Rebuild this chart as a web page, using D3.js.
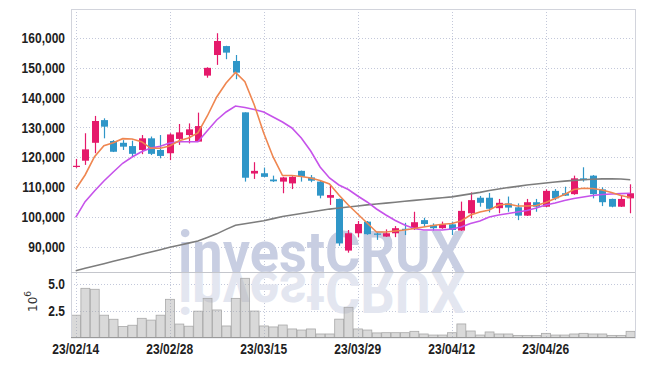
<!DOCTYPE html>
<html>
<head>
<meta charset="utf-8">
<script src="https://cdn.jsdelivr.net/npm/d3@7"></script>
<style>
  html, body { margin: 0; padding: 0; background: #fff; }
  svg { display: block; }
  .lbl { font-family: "Liberation Sans Narrow", "Liberation Sans", Arial, sans-serif; font-weight: bold; font-size: 15px; fill: #1e1e1e; }
</style>
</head>
<body>
<svg id="chart" width="645" height="366"></svg>
<script>
// trading days (YY/MM/DD)
var dates = ["23/02/14","23/02/15","23/02/16","23/02/17","23/02/20","23/02/21","23/02/22","23/02/23","23/02/24","23/02/27",
  "23/02/28","23/03/02","23/03/03","23/03/06","23/03/07","23/03/08","23/03/09","23/03/10","23/03/13","23/03/14",
  "23/03/15","23/03/16","23/03/17","23/03/20","23/03/21","23/03/22","23/03/23","23/03/24","23/03/27","23/03/28",
  "23/03/29","23/03/30","23/03/31","23/04/03","23/04/04","23/04/05","23/04/06","23/04/07","23/04/10","23/04/11",
  "23/04/12","23/04/13","23/04/14","23/04/17","23/04/18","23/04/19","23/04/20","23/04/21","23/04/24","23/04/25",
  "23/04/26","23/04/27","23/04/28","23/05/02","23/05/03","23/05/04","23/05/08","23/05/09","23/05/10","23/05/11"];

var openP = [117000,118800,124800,132400,125400,124800,123700,122400,126300,122400,
  121300,126100,127400,125200,147300,154200,157200,152200,135000,114500,
  114600,112500,111800,111200,115400,113200,111800,106400,106000,88700,
  94500,98400,94400,93400,94500,96000,95900,98900,97300,96200,
  97500,95400,101200,106400,106400,102900,104500,103200,100400,104900,
  103400,108700,107900,107600,112900,113800,109200,106000,103400,106200];
var highP = [119400,128000,133800,133000,125700,125700,125500,127400,126900,127400,
  128000,131100,131300,134900,150100,161500,157300,154200,135000,118300,
  116500,113800,113400,113600,115500,114000,112000,110700,106100,95600,
  98600,98600,94800,95800,96900,98000,101700,99700,97800,98400,
  98400,105100,108200,107000,108000,106000,106800,104500,106000,106000,
  109200,109300,110100,113800,116600,114000,109900,106100,107000,110900];
var lowP = [116400,117400,121300,126300,121700,122400,120100,121000,120700,119600,
  119000,124100,124600,125100,146600,150900,152800,146100,111800,112700,
  113300,111700,107900,109300,111800,111600,106200,104000,90300,88000,
  93200,94000,92300,93300,93200,93900,95600,96700,95400,96000,
  93900,95300,99500,103400,101500,101200,101700,98900,100300,101700,
  103300,105600,107000,107400,111800,106200,103600,103200,103300,101200];
var closeP = [117100,122600,132100,130200,121800,123500,121100,126300,121100,120400,
  127600,128300,129300,130400,149900,158900,155000,148300,113100,115400,
  113400,111900,113200,113400,113400,112100,107100,107300,91100,94500,
  97600,94200,94300,94500,96200,95900,98200,97600,96200,97500,
  95600,102000,105600,104700,102700,104700,103100,100400,104900,103400,
  108700,106200,107100,112900,112300,107600,104900,103400,106000,107900];
var volume = [2080000,4600000,4510000,2080000,1700000,1020000,1140000,1790000,1620000,2080000,
  3570000,1250000,1050000,2460000,3660000,2570000,1070000,3660000,5540000,2470000,
  1070000,980000,1160000,790000,690000,790000,320000,320000,1710000,2820000,
  790000,690000,420000,440000,440000,440000,570000,320000,220000,220000,
  440000,1260000,600000,220000,510000,320000,320000,190000,190000,190000,
  380000,220000,220000,320000,380000,320000,320000,190000,190000,570000];
var ma5 = [109230,114020,120150,123830,124840,126180,126080,125170,122960,122960,
  123730,125500,126410,128090,133780,140140,144830,148350,145260,137460,
  128090,120050,113850,113850,113520,113010,112180,111000,107320,103970,
  100960,97940,94930,94930,95260,95600,96100,96600,97110,97510,
  97780,98610,100620,101630,102300,103970,104310,103640,103640,103800,
  104810,106150,107490,109160,109560,109500,109000,108160,107150,106480];
var ma20 = [99850,105080,108660,112010,115020,117940,120050,121820,123060,123630,
  124700,125170,125170,125170,128850,132440,135120,137130,136620,135960,
  135120,133440,131770,129760,126410,122060,116700,113010,110670,109160,
  106990,104980,102630,100620,98780,97270,96100,95600,95600,95600,
  95930,96600,97780,98610,99950,100620,101130,101630,102130,102970,
  103970,104640,105480,106150,106650,107150,107490,107660,107760,107890];
var ma60 = [81970,82800,83550,84300,85100,85850,86650,87450,88250,89000,
  89800,90500,91200,91900,93100,94300,95800,97200,97700,98200,
  98700,99400,100100,100600,101100,101600,102100,102600,102950,103300,
  103650,104000,104300,104600,104900,105200,105500,105800,106100,106400,
  106700,107200,107700,108200,108800,109300,109800,110200,110650,111000,
  111350,111650,111950,112200,112400,112600,112700,112780,112650,112400];
var priceTicks = [90000,100000,110000,120000,130000,140000,150000,160000];
var volTicks = [2500000,5000000];

var svg = d3.select("#chart");
var plotL = 71, plotR = 635, plotT = 9, splitY = 272, plotB = 337.4;

var x = d3.scaleBand().domain(dates).range([plotL, plotR]).padding(0);
var cx = function (d) { return x(d) + x.bandwidth() / 2; };
var y = d3.scaleLinear().domain([81526, 169613]).range([splitY, plotT]);
var yv = d3.scaleLinear().domain([0, 6130000]).range([plotB, splitY]);

var upColor = "#e5196b", downColor = "#2f96c8", gridColor = "#c3c8da";

// grid
var grid = svg.append("g");
grid.selectAll(".hg").data(priceTicks).enter().append("line")
  .attr("x1", plotL).attr("x2", plotR)
  .attr("y1", function (d) { return Math.round(y(d)) + 0.5; })
  .attr("y2", function (d) { return Math.round(y(d)) + 0.5; })
  .attr("stroke", gridColor).attr("stroke-dasharray", "1,2");
grid.selectAll(".vg").data(volTicks).enter().append("line")
  .attr("x1", plotL).attr("x2", plotR)
  .attr("y1", function (d) { return Math.round(yv(d)) + 0.5; })
  .attr("y2", function (d) { return Math.round(yv(d)) + 0.5; })
  .attr("stroke", gridColor).attr("stroke-dasharray", "1,2");
var xTicks = dates.filter(function (d, i) { return i % 10 === 0; });
grid.selectAll(".xg").data(xTicks).enter().append("line")
  .attr("x1", function (d) { return Math.round(cx(d)) + 0.5; })
  .attr("x2", function (d) { return Math.round(cx(d)) + 0.5; })
  .attr("y1", plotT).attr("y2", plotB)
  .attr("stroke", gridColor).attr("stroke-dasharray", "1,2");

// watermark + reflection
var wm = svg.append("g").style("font-family", "Roboto, 'DejaVu Sans', sans-serif").style("font-weight", "bold");
wm.append("text").attr("x", 178).attr("y", splitY).attr("font-size", 58)
  .attr("textLength", 287).attr("lengthAdjust", "spacingAndGlyphs")
  .attr("fill", "#c8cee2").text("investCRUX");
wm.append("text").attr("x", 178).attr("y", splitY).attr("font-size", 58)
  .attr("textLength", 287).attr("lengthAdjust", "spacingAndGlyphs")
  .attr("transform", "translate(0," + (2 * splitY) + ") scale(1,-1)")
  .attr("fill", "#e3e6f0").text("investCRUX");

// volume bars
svg.append("g").selectAll("rect").data(dates).enter().append("rect")
  .attr("x", function (d) { return x(d) + 0.5; })
  .attr("width", x.bandwidth() - 0.5)
  .attr("y", function (d, i) { return yv(volume[i]); })
  .attr("height", function (d, i) { return plotB - yv(volume[i]); })
  .attr("fill", "rgba(165,165,165,0.42)")
  .attr("stroke", "#a8a8a8").attr("stroke-width", 0.8);

// candles
var candles = svg.append("g").selectAll("g").data(dates).enter().append("g");
candles.append("line")
  .attr("x1", function (d) { return Math.round(cx(d)) + 0.5; })
  .attr("x2", function (d) { return Math.round(cx(d)) + 0.5; })
  .attr("y1", function (d, i) { return y(highP[i]); })
  .attr("y2", function (d, i) { return y(lowP[i]); })
  .attr("stroke", function (d, i) { return closeP[i] >= openP[i] ? upColor : downColor; })
  .attr("stroke-width", 1.2);
candles.append("rect")
  .attr("x", function (d) { return Math.round(cx(d)) - 3; })
  .attr("width", 7)
  .attr("y", function (d, i) { return y(Math.max(openP[i], closeP[i])); })
  .attr("height", function (d, i) { return Math.max(1.2, Math.abs(y(openP[i]) - y(closeP[i]))); })
  .attr("fill", function (d, i) { return closeP[i] >= openP[i] ? upColor : downColor; });

// moving averages
var line = function (vals) {
  return d3.line()
    .x(function (d) { return cx(d); })
    .y(function (d, i) { return y(vals[i]); })(dates);
};
svg.append("path").attr("d", line(ma60)).attr("fill", "none").attr("stroke", "#7d7d7d").attr("stroke-width", 1.6);
svg.append("path").attr("d", line(ma20)).attr("fill", "none").attr("stroke", "#c653ea").attr("stroke-width", 1.6);
svg.append("path").attr("d", line(ma5)).attr("fill", "none").attr("stroke", "#ef8650").attr("stroke-width", 1.6);

// frame
var frame = svg.append("g").attr("fill", "none");
frame.append("rect").attr("x", plotL + 0.5).attr("y", plotT + 0.5)
  .attr("width", plotR - plotL).attr("height", plotB - plotT)
  .attr("stroke", "#d2d4dc");
frame.append("line").attr("x1", plotL).attr("x2", plotR).attr("y1", splitY + 0.5).attr("y2", splitY + 0.5)
  .attr("stroke", "#c4c6cc").attr("stroke-width", 1.2);
frame.append("line").attr("x1", plotL).attr("x2", plotR).attr("y1", Math.round(plotB) + 0.5).attr("y2", Math.round(plotB) + 0.5)
  .attr("stroke", "#9a9a9a");

// axes
var yAxis = svg.append("g").attr("transform", "translate(" + plotL + ",0)")
  .call(d3.axisLeft(y).tickValues(priceTicks).tickSize(0).tickPadding(6).tickFormat(d3.format(",")));
var vAxis = svg.append("g").attr("transform", "translate(" + plotL + ",0)")
  .call(d3.axisLeft(yv).tickValues(volTicks).tickSize(0).tickPadding(6)
    .tickFormat(function (d) { return (d / 1e6).toFixed(1); }));
var xAxis = svg.append("g").attr("transform", "translate(0," + plotB + ")")
  .call(d3.axisBottom(x).tickValues(xTicks).tickSize(0).tickPadding(6));
[yAxis, vAxis, xAxis].forEach(function (a) {
  a.select(".domain").remove();
  a.selectAll("text").attr("class", "lbl").attr("font-family", null).attr("font-size", null).attr("fill", null)
    .each(function () {
      // squeeze into a condensed look
      var w = this.getComputedTextLength();
      d3.select(this).attr("textLength", w * 0.8).attr("lengthAdjust", "spacingAndGlyphs");
    });
});

// volume unit
var unit = svg.append("text").attr("transform", "translate(37,312) rotate(-90)")
  .style("font-family", "'DejaVu Sans', sans-serif").style("font-size", "12px").attr("fill", "#333");
unit.append("tspan").text("10");
unit.append("tspan").attr("dy", -6).style("font-size", "9px").text("6");
</script>
</body>
</html>
